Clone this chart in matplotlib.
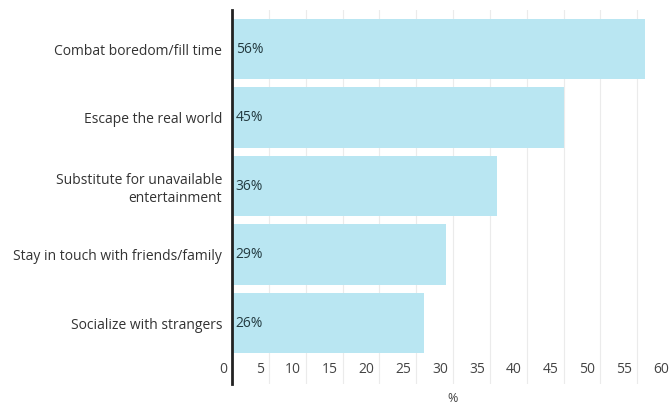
import matplotlib
matplotlib.use("Agg")
import matplotlib.pyplot as plt
import matplotlib.transforms as mtransforms
import numpy as np

categories = [
    "Combat boredom/fill time",
    "Escape the real world",
    "Substitute for unavailable\nentertainment",
    "Stay in touch with friends/family",
    "Socialize with strangers",
]
values = [56, 45, 36, 29, 26]
xticks = [0, 5, 10, 15, 20, 25, 30, 35, 40, 45, 50, 55, 60]

plt.rcParams["font.family"] = ["Open Sans", "DejaVu Sans"]

fig = plt.figure(figsize=(6.7, 4.05), dpi=100)
ax = fig.add_axes([232 / 670, 21 / 405, 442 / 670, 374 / 405])

y = np.arange(len(categories))
ax.barh(y, values, height=0.88, color="#b9e6f2", zorder=2)

for yi, v in zip(y, values):
    ax.text(0.5, yi, f"{v}%", va="center", ha="left", fontsize=10,
            color="#233a40", zorder=3)

ax.set_ylim(4.89, -0.57)
ax.set_xlim(0, 60)
ax.set_yticks(y)
ax.set_yticklabels(categories, fontsize=10, color="#333333",
                   linespacing=1.25)
ax.tick_params(axis="y", length=0, pad=7)

ax.set_xticks(xticks)
ax.set_xticklabels([str(t) for t in xticks], fontsize=10, color="#444444")
ax.tick_params(axis="x", length=0, pad=-16)
offset = mtransforms.ScaledTranslation(-5 / 100, 0, fig.dpi_scale_trans)
for lbl in ax.get_xticklabels():
    lbl.set_horizontalalignment("right")
    lbl.set_transform(lbl.get_transform() + offset)

ax.grid(axis="x", color="#ebebeb", linewidth=0.8, zorder=0)
ax.set_axisbelow(True)
for s in ["top", "right", "bottom"]:
    ax.spines[s].set_visible(False)
ax.spines["left"].set_color("#222222")
ax.spines["left"].set_linewidth(2)
ax.spines["left"].set_zorder(4)

ax.set_xlabel("%", fontsize=9, color="#444444", labelpad=6)

fig.savefig("out.png", dpi=100)
